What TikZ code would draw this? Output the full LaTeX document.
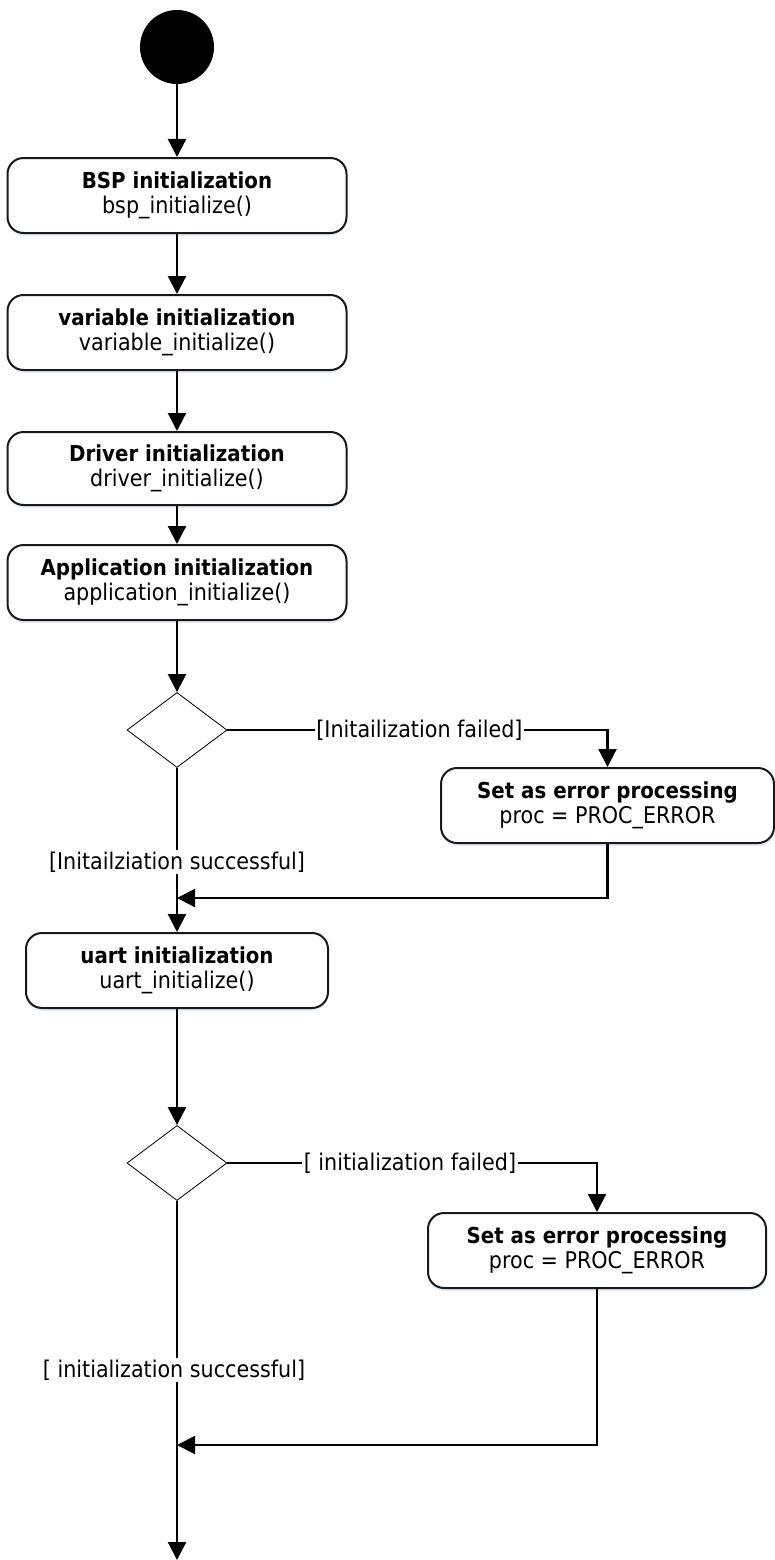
\documentclass[tikz,border=0pt]{standalone}
\usepackage{fontspec}
\setmainfont{DejaVu Sans Condensed}
\usetikzlibrary{shapes.geometric,arrows.meta,shadows}
\newcommand{\ttl}[1]{{\fontsize{22}{25}\selectfont\bfseries #1}}
\begin{document}
\begin{tikzpicture}[x=1pt,y=-1pt,
  flow/.style={line width=2.2pt,-{Triangle[length=18pt,width=18pt]}},
  actbox/.style={draw=black!90,line width=2pt,rounded corners=16pt,fill=white,
    minimum height=75pt,align=center,font=\fontsize{23}{25}\selectfont,
    drop shadow={shadow xshift=0pt,shadow yshift=-3pt,opacity=0.3,fill={rgb,255:red,170;green,195;blue,230}}},
  decision/.style={diamond,draw,line width=0.8pt,fill=white,minimum width=100pt,minimum height=75pt,inner sep=0pt,aspect=1.33},
  guard/.style={fill=white,inner sep=1.5pt,font=\fontsize{23}{25}\selectfont}
]
\useasboundingbox (0,0) rectangle (774,1560);

% initial state
\node[circle,fill=black,minimum size=74pt,inner sep=0pt] (start) at (177,47) {};

% initialisation steps
\node[actbox,minimum width=339pt] (bsp) at (177,195.5) {\ttl{BSP initialization}\\bsp\_initialize()};
\node[actbox,minimum width=339pt] (var) at (177,332.5) {\ttl{variable initialization}\\variable\_initialize()};
\node[actbox,minimum width=339pt,minimum height=73pt] (drv) at (177,468.5) {\ttl{Driver initialization}\\driver\_initialize()};
\node[actbox,minimum width=339pt] (app) at (177,582.5) {\ttl{Application initialization}\\application\_initialize()};

% first decision and its error branch
\node[decision] (dec1) at (177,730) {};
\node[actbox,minimum width=333pt] (err1) at (607.5,805.5) {\ttl{Set as error processing}\\proc = PROC\_ERROR};
\coordinate (join1) at (177,898);

\node[actbox,minimum width=302pt] (uart) at (177,970.5) {\ttl{uart initialization}\\uart\_initialize()};

% second decision and its error branch
\node[decision] (dec2) at (177,1163) {};
\node[actbox,minimum width=338pt] (err2) at (597,1250.5) {\ttl{Set as error processing}\\proc = PROC\_ERROR};
\coordinate (join2) at (177,1445);
\coordinate (finish) at (177,1560);

% main flow
\draw[flow] (start) -- (bsp);
\draw[flow] (bsp) -- (var);
\draw[flow] (var) -- (drv);
\draw[flow] (drv) -- (app);
\draw[flow] (app) -- (dec1);
\draw[flow] (dec1.east) -| (err1.north);
\draw[flow] (dec1.south) -- (uart.north);
\draw[flow] (err1.south) |- (join1);
\draw[flow] (uart) -- (dec2);
\draw[flow] (dec2.east) -| (err2.north);
\draw[flow] (err2.south) |- (join2);
\draw[flow] (dec2.south) -- (finish);

% guard labels
\node[guard] (g1) at (419.5,730) {[Initailization failed]};
\node[guard] (g2) at (177,862) {[Initailziation successful]};
\node[guard] (g3) at (410,1163) {[ initialization failed]};
\node[guard] (g4) at (174,1370) {[ initialization successful]};
\end{tikzpicture}
\end{document}
